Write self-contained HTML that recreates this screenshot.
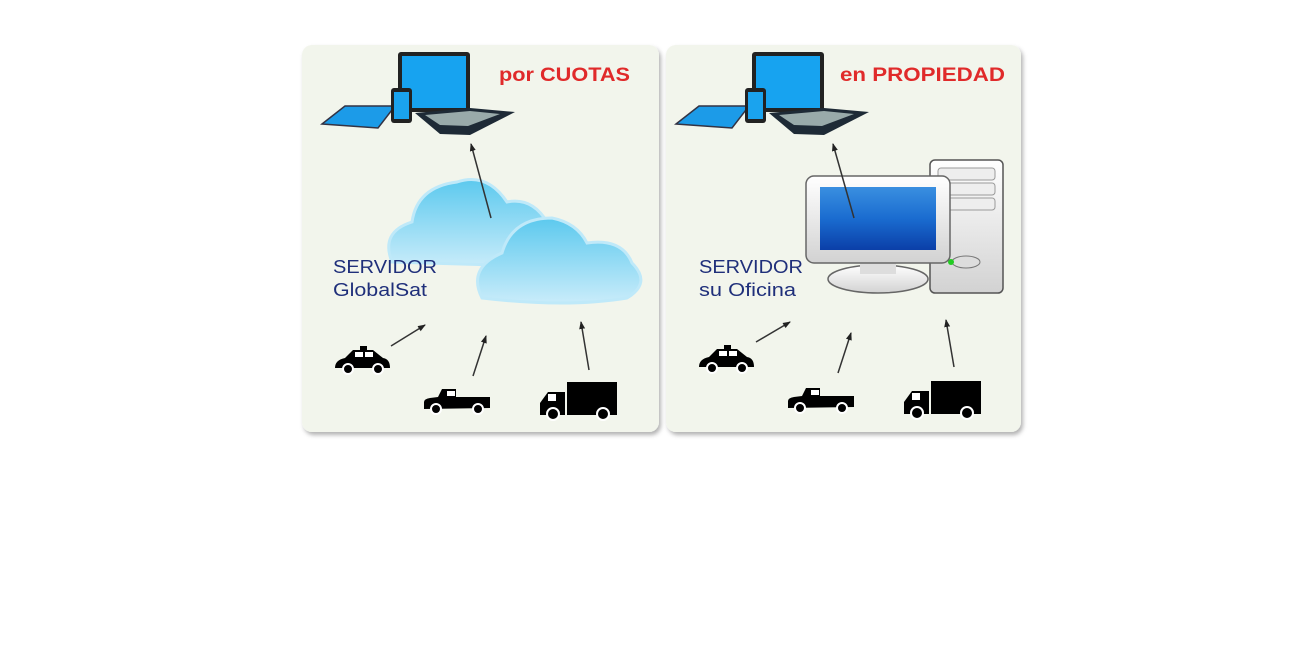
<!DOCTYPE html>
<html><head><meta charset="utf-8"><style>
html,body{margin:0;padding:0;background:#fff;}
svg{display:block;font-family:"Liberation Sans","DejaVu Sans",sans-serif;}
</style></head><body>
<svg width="1304" height="649" viewBox="0 0 1304 649">
<defs>
<linearGradient id="cl" x1="0" y1="0" x2="0" y2="1"><stop offset="0" stop-color="#5cc9ee"/><stop offset="1" stop-color="#c9ecfa"/></linearGradient>
<linearGradient id="scr" x1="0" y1="0" x2="0" y2="1"><stop offset="0" stop-color="#3a8fe0"/><stop offset="0.5" stop-color="#1a6cd0"/><stop offset="1" stop-color="#0b3fa8"/></linearGradient>
<linearGradient id="wh" x1="0" y1="0" x2="0" y2="1"><stop offset="0" stop-color="#ffffff"/><stop offset="1" stop-color="#d2d2d2"/></linearGradient>
<marker id="ah" markerWidth="8" markerHeight="8" refX="7" refY="4" orient="auto" markerUnits="userSpaceOnUse"><path d="M0,1 L8,4 L0,7 Z" fill="#222"/></marker>
<filter id="sh" x="-5%" y="-5%" width="110%" height="110%"><feDropShadow dx="2" dy="3" stdDeviation="2" flood-color="#000" flood-opacity="0.3"/></filter>
<g id="dev">
  <polygon points="322,124 345,106 395,106 378,128" fill="#1c9be8" stroke="#334" stroke-width="1.5"/>
  <rect x="398" y="52" width="72" height="60" rx="3" fill="#222"/>
  <rect x="402" y="56" width="64" height="52" fill="#17a3f0"/>
  <polygon points="415,113 470,108 515,112 470,135 440,134" fill="#1e2a36"/>
  <polygon points="425,115 470,111 500,114 468,126 440,125" fill="#9aa"/>
  <rect x="391" y="88" width="21" height="35" rx="3" fill="#222"/>
  <rect x="394" y="92" width="15" height="27" fill="#1aa3ee"/>
</g>
<g id="car">
  <path d="M335,368 q0,-8 10,-10 l8,-8 h20 l10,8 q7,1 7,10 z" fill="#000"/>
  <rect x="360" y="346" width="7" height="4" fill="#000"/>
  <rect x="355" y="352" width="8" height="5" fill="#fff"/><rect x="365" y="352" width="8" height="5" fill="#fff"/>
  <circle cx="348" cy="369" r="5" fill="#000" stroke="#fff" stroke-width="2"/>
  <circle cx="378" cy="369" r="5" fill="#000" stroke="#fff" stroke-width="2"/>
</g>
<g id="pick">
  <path d="M424,409 v-7 q0,-3 6,-4 l8,-1 l4,-8 h14 v8 h34 v11 z" fill="#000"/>
  <rect x="447" y="391" width="8" height="5" fill="#fff"/>
  <circle cx="436" cy="409" r="5" fill="#000" stroke="#fff" stroke-width="2"/>
  <circle cx="478" cy="409" r="5" fill="#000" stroke="#fff" stroke-width="2"/>
</g>
<g id="truck">
  <rect x="567" y="382" width="50" height="33" fill="#000"/>
  <path d="M540,415 v-12 l8,-11 h17 v23 z" fill="#000"/>
  <rect x="548" y="394" width="8" height="7" fill="#fff"/>
  <circle cx="553" cy="414" r="6" fill="#000" stroke="#fff" stroke-width="2"/>
  <circle cx="603" cy="414" r="6" fill="#000" stroke="#fff" stroke-width="2"/>
</g>
</defs>

<rect x="302" y="45" width="357" height="387" rx="10" fill="#f2f5ec" filter="url(#sh)"/>
<rect x="666" y="45" width="355" height="387" rx="10" fill="#f2f5ec" filter="url(#sh)"/>

<!-- panel 1 -->
<use href="#dev"/>
<text x="499" y="81" font-size="19" font-weight="bold" fill="#e02a2a" textLength="131" lengthAdjust="spacingAndGlyphs">por CUOTAS</text>
<g fill="url(#cl)" stroke="#bfe9f9" stroke-width="3">
<path d="M392,262 q-12,-30 20,-40 q5,-35 45,-40 q30,-10 50,20 q25,-5 40,20 q25,-5 30,20 q5,20 -10,25 z"/>
<path d="M482,298 q-15,-30 20,-45 q10,-35 50,-35 q25,5 35,25 q35,-5 45,20 q20,20 -5,35 q-60,10 -145,0 z"/>
</g>
<text x="333" y="273" font-size="18" fill="#1f2f7a" textLength="104" lengthAdjust="spacingAndGlyphs">SERVIDOR</text>
<text x="333" y="296" font-size="18" fill="#1f2f7a" textLength="94" lengthAdjust="spacingAndGlyphs">GlobalSat</text>
<g stroke="#333" stroke-width="1.5" marker-end="url(#ah)">
<line x1="491" y1="218" x2="471" y2="144"/>
<line x1="391" y1="346" x2="425" y2="325"/>
<line x1="473" y1="376" x2="486" y2="336"/>
<line x1="589" y1="370" x2="581" y2="322"/>
</g>
<use href="#car"/><use href="#pick"/><use href="#truck"/>

<!-- panel 2 -->
<use href="#dev" x="354"/>
<text x="840" y="81" font-size="19" font-weight="bold" fill="#e02a2a" textLength="165" lengthAdjust="spacingAndGlyphs">en PROPIEDAD</text>
<rect x="930" y="160" width="73" height="133" rx="5" fill="url(#wh)" stroke="#555" stroke-width="1.5"/>
<rect x="938" y="168" width="57" height="12" rx="3" fill="#eee" stroke="#999"/>
<rect x="938" y="183" width="57" height="12" rx="3" fill="#eee" stroke="#999"/>
<rect x="938" y="198" width="57" height="12" rx="3" fill="#eee" stroke="#999"/>
<ellipse cx="966" cy="262" rx="14" ry="6" fill="#ddd" stroke="#777"/>
<circle cx="951" cy="262" r="3" fill="#2c2"/>
<ellipse cx="878" cy="279" rx="50" ry="14" fill="url(#wh)" stroke="#666" stroke-width="1.5"/>
<rect x="860" y="258" width="36" height="16" fill="#ddd"/>
<rect x="806" y="176" width="144" height="87" rx="8" fill="url(#wh)" stroke="#666" stroke-width="1.5"/>
<rect x="820" y="187" width="116" height="63" fill="url(#scr)"/>
<text x="699" y="273" font-size="18" fill="#1f2f7a" textLength="104" lengthAdjust="spacingAndGlyphs">SERVIDOR</text>
<text x="699" y="296" font-size="18" fill="#1f2f7a" textLength="97" lengthAdjust="spacingAndGlyphs">su Oficina</text>
<g stroke="#333" stroke-width="1.5" marker-end="url(#ah)">
<line x1="854" y1="218" x2="833" y2="144"/>
<line x1="756" y1="342" x2="790" y2="322"/>
<line x1="838" y1="373" x2="851" y2="333"/>
<line x1="954" y1="367" x2="946" y2="320"/>
</g>
<use href="#car" x="364" y="-1"/><use href="#pick" x="364" y="-1"/><use href="#truck" x="364" y="-1"/>
</svg>
</body></html>
